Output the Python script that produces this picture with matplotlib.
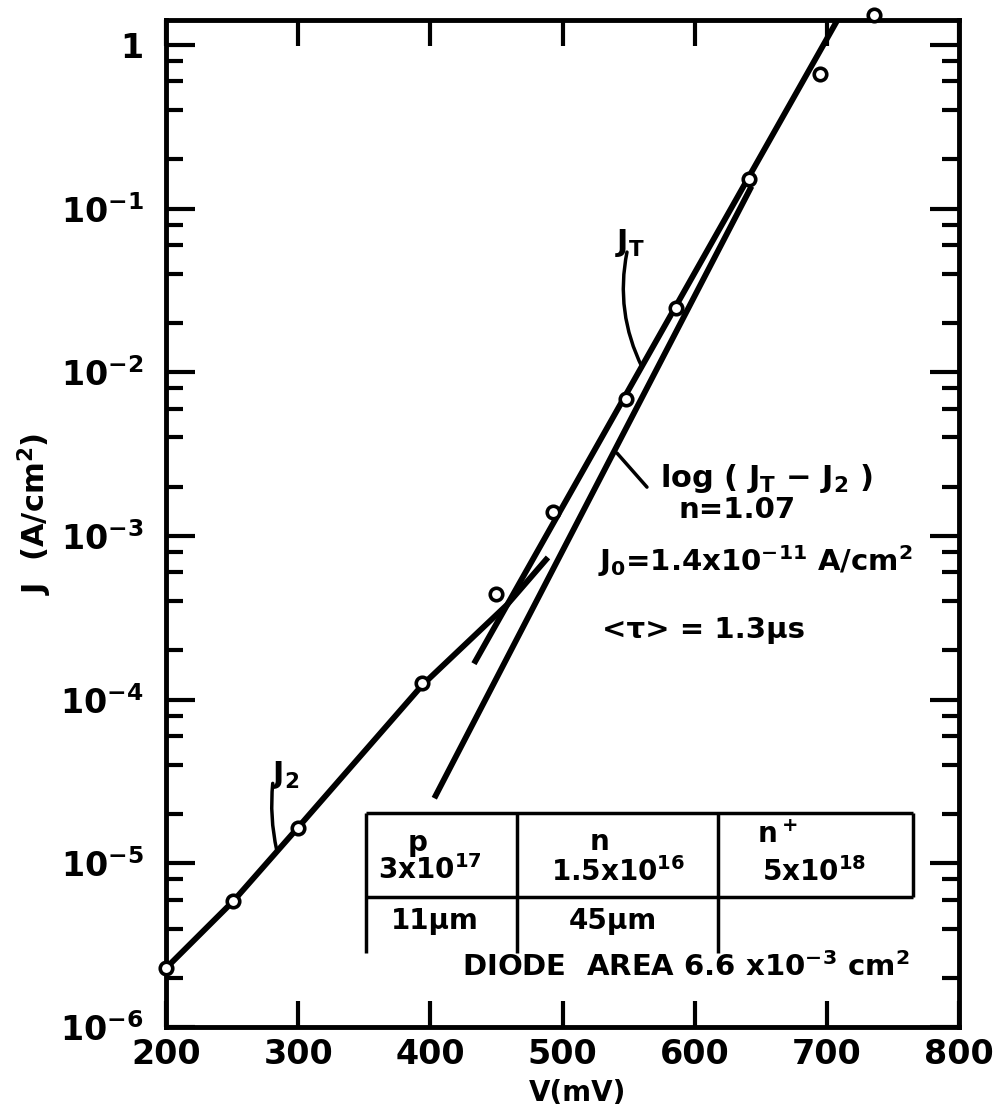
import matplotlib
matplotlib.use("Agg")
import matplotlib.pyplot as plt
from matplotlib.ticker import FixedLocator, LogLocator, NullFormatter

plt.rcParams.update({
    "font.family": ["DejaVu Sans"],
    "font.weight": "bold",
    "mathtext.fontset": "custom",
    "mathtext.rm": "DejaVu Sans:bold",
    "mathtext.it": "DejaVu Sans:bold",
    "mathtext.bf": "DejaVu Sans:bold",
    "mathtext.sf": "DejaVu Sans:bold",
})

# measured J-V points (circles)
v_meas = [200, 251, 300, 394, 450, 493, 548, 586, 641, 695, 736]
j_meas = [2.3e-6, 5.9e-6, 1.65e-5, 1.26e-4, 4.45e-4, 1.4e-3, 6.9e-3, 2.48e-2, 0.151, 0.667, 1.52]

# J2 curve (recombination component)
v_j2 = [200, 251, 300, 394, 458, 489]
j_j2 = [2.29e-6, 5.89e-6, 1.66e-5, 1.23e-4, 3.8e-4, 7.4e-4]

# J_T straight section
v_jt = [433, 708]
j_jt = [1.66e-4, 1.42]

# log(J_T - J_2) fit line
v_diff = [403, 643]
j_diff = [2.5e-5, 0.137]

x_ticks = [200, 300, 400, 500, 600, 700, 800]
y_ticks = [1e-6, 1e-5, 1e-4, 1e-3, 1e-2, 1e-1, 1]
y_labels = ["$10^{-6}$", "$10^{-5}$", "$10^{-4}$", "$10^{-3}$", "$10^{-2}$", "$10^{-1}$", "1"]

fig = plt.figure(figsize=(9.97, 11.16), dpi=100)
ax = fig.add_axes([0.1665, 0.0797, 0.7954, 0.9023])
ax.set_yscale("log")

lw = 4.2
ax.plot(v_j2, j_j2, color="k", lw=lw, solid_capstyle="butt")
ax.plot(v_jt, j_jt, color="k", lw=lw, solid_capstyle="butt")
ax.plot(v_diff, j_diff, color="k", lw=lw, solid_capstyle="butt")
ax.plot(v_meas, j_meas, "o", ms=9, mfc="white", mec="k", mew=2.6,
        clip_on=False, zorder=5)

ax.set_xlim(200, 800)
ax.set_ylim(1e-6, 1.42)

for s in ax.spines.values():
    s.set_linewidth(3.5)

ax.xaxis.set_major_locator(FixedLocator(x_ticks))
ax.set_xticklabels([str(t) for t in x_ticks])
ax.yaxis.set_major_locator(FixedLocator(y_ticks))
ax.set_yticklabels(y_labels)
ax.yaxis.set_minor_locator(LogLocator(base=10, subs=[2, 4, 6, 8], numticks=20))
ax.yaxis.set_minor_formatter(NullFormatter())
ax.xaxis.set_minor_locator(FixedLocator([]))

ax.tick_params(axis="x", which="major", direction="in", top=True, length=19,
               width=3, pad=8, labelsize=24)
ax.tick_params(axis="y", which="major", direction="in", right=True, length=21,
               width=3, pad=16, labelsize=24)
ax.tick_params(axis="y", which="minor", direction="in", right=True, length=12,
               width=3)

fig.text(0.035, 1 - 514 / 1116, "J  (A/cm$^2$)", rotation=90, ha="center",
         va="center", fontsize=22)
fig.text(578 / 997, 1 - 1093 / 1116, "V(mV)", ha="center", va="center", fontsize=20)

# curve labels and leaders
lead = dict(arrowstyle="-", lw=2.5, shrinkA=0, shrinkB=0, color="k")
ax.text(0.150, 0.2502, "$J_2$", transform=ax.transAxes, ha="center", va="center",
        fontsize=22)
ax.annotate("", xy=(0.1396, 0.1758), xytext=(0.1346, 0.2420),
            xycoords="axes fraction", textcoords="axes fraction",
            arrowprops=dict(lead, connectionstyle="arc3,rad=0.08"))
ax.text(0.585, 0.7785, "$J_T$", transform=ax.transAxes, ha="center", va="center",
        fontsize=22)
ax.annotate("", xy=(0.6003, 0.6554), xytext=(0.5813, 0.7696),
            xycoords="axes fraction", textcoords="axes fraction",
            arrowprops=dict(lead, connectionstyle="arc3,rad=0.17"))
ax.annotate("", xy=(0.6065, 0.5362), xytext=(0.5687, 0.5700),
            xycoords="axes fraction", textcoords="axes fraction",
            arrowprops=dict(lead, connectionstyle="arc3,rad=0"))

ax.text(0.623, 0.545, "log ( $J_T$ $-$ $J_2$ )", transform=ax.transAxes,
        ha="left", va="center", fontsize=22)
ax.text(0.720, 0.5134, "n=1.07", transform=ax.transAxes, ha="center",
        va="center", fontsize=21)
ax.text(0.7428, 0.4628, "$J_0$=1.4x10$^{-11}$ A/cm$^2$", transform=ax.transAxes,
        ha="center", va="center", fontsize=21)
ax.text(0.6784, 0.3942, "<τ> = 1.3μs", transform=ax.transAxes, ha="center",
        va="center", fontsize=21)

# layer table
tl = dict(color="k", lw=2.5, transform=ax.transAxes, solid_capstyle="butt")
x0, x1, x2, x3 = 0.2522, 0.442, 0.6956, 0.9426
yt, ym, yb = 0.2125, 0.1291, 0.0735
ax.plot([x0, x3], [yt, yt], **tl)
ax.plot([x0, x3], [ym, ym], **tl)
ax.plot([x3, x3], [ym, yt], **tl)
for xv in (x0, x1, x2):
    ax.plot([xv, xv], [yb, yt], **tl)

cell = dict(transform=ax.transAxes, ha="center", va="center", fontsize=20)
ax.text(0.3178, 0.1827, "p", **cell)
ax.text(0.333, 0.156, "3x10$^{17}$", **cell)
ax.text(0.547, 0.1837, "n", **cell)
ax.text(0.570, 0.154, "1.5x10$^{16}$", **cell)
ax.text(0.7705, 0.1907, "n$^+$", **cell)
ax.text(0.817, 0.154, "5x10$^{18}$", **cell)
ax.text(0.339, 0.105, "11μm", **cell)
ax.text(0.5637, 0.105, "45μm", **cell)
ax.text(0.6557, 0.0596, "DIODE  AREA 6.6 x10$^{-3}$ cm$^2$",
        transform=ax.transAxes, ha="center", va="center", fontsize=21)

fig.savefig("out.png", dpi=100)
